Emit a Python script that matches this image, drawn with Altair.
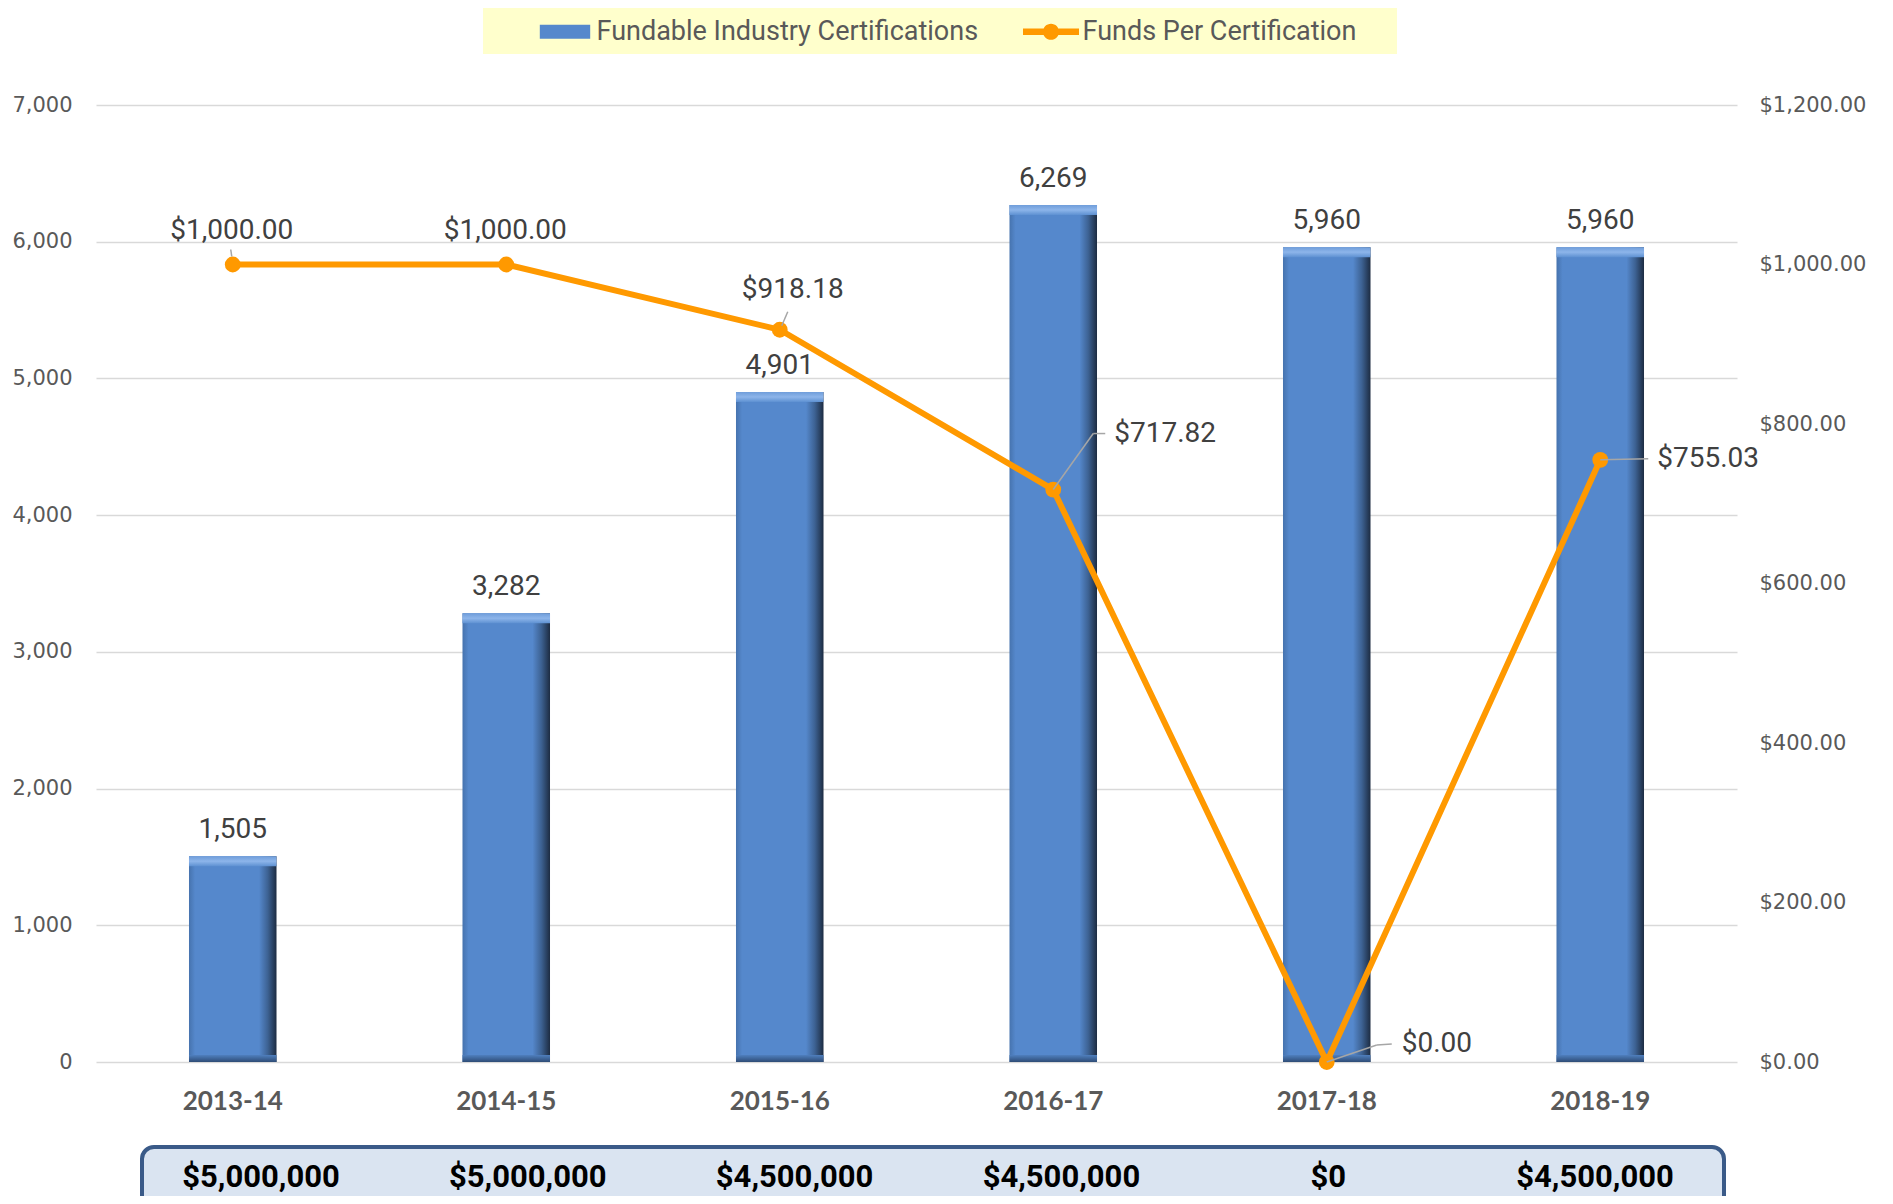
import altair as alt
import pandas as pd

years = ["2013-14", "2014-15", "2015-16", "2016-17", "2017-18", "2018-19"]
certifications = [1505, 3282, 4901, 6269, 5960, 5960]
funds_per_cert = [1000.00, 1000.00, 918.18, 717.82, 0.00, 755.03]
total_funds = [5000000, 5000000, 4500000, 4500000, 0, 4500000]
series_names = ["Fundable Industry Certifications", "Funds Per Certification"]
left_ticks = [0, 1000, 2000, 3000, 4000, 5000, 6000, 7000]
right_ticks = [0, 200, 400, 600, 800, 1000, 1200]

df = pd.DataFrame({"year": years, "certs": certifications,
                   "fpc": funds_per_cert, "funds": total_funds})
one = pd.DataFrame({"k": [0]})

NARROW = "Roboto"
AXISFONT = "DejaVu Sans"
BLUE = "#5588CC"
ORANGE = "#FF9900"
GRAY = "#595959"
LABEL = "#404040"

x_axis = alt.Axis(title=None, labelFont="Lato", labelFontWeight="bold", labelFontSize=26,
                  labelColor=GRAY, labelPadding=26, domain=False, ticks=False, tickSize=0,
                  labelAngle=0)
x_enc = alt.X("year:N", sort=years,
              scale=alt.Scale(paddingInner=0.68, paddingOuter=0.34), axis=x_axis)

left_axis = alt.Axis(title=None, values=left_ticks, format=",.0f", labelFont=AXISFONT,
                     labelFontSize=21, labelColor=GRAY, labelPadding=24, domain=False,
                     ticks=False, grid=True, gridColor="#D9D9D9", gridWidth=1.6, orient="left")
left_scale = alt.Scale(domain=[0, 7000], nice=False)
y_left = alt.Y("certs:Q", scale=left_scale, axis=left_axis)

right_axis = alt.Axis(title=None, values=right_ticks, format="$,.2f", labelFont=AXISFONT,
                      labelFontSize=21, labelColor=GRAY, labelPadding=22, domain=False,
                      ticks=False, grid=False, orient="right")
y_right = alt.Y("fpc:Q", scale=alt.Scale(domain=[0, 1200], nice=False), axis=right_axis)

base = alt.Chart(df)

bar_grad = {"gradient": "linear", "x1": 0, "x2": 1, "y1": 0, "y2": 0,
            "stops": [{"offset": 0, "color": "#4673AE"},
                      {"offset": 0.07, "color": BLUE},
                      {"offset": 0.80, "color": BLUE},
                      {"offset": 0.90, "color": "#3D6293"},
                      {"offset": 1, "color": "#1D2C42"}]}
top_grad = {"gradient": "linear", "x1": 0, "x2": 0, "y1": 0, "y2": 1,
            "stops": [{"offset": 0, "color": "#6F9DDA"},
                      {"offset": 0.5, "color": "#8DB5EA"},
                      {"offset": 1, "color": "#5E91D2"}]}
bot_grad = {"gradient": "linear", "x1": 0, "x2": 0, "y1": 0, "y2": 1,
            "stops": [{"offset": 0, "color": "#4F7FBE"},
                      {"offset": 1, "color": "#2E4C76"}]}

legend_bg = alt.Chart(one).mark_rect(fill="#FFFFCC").encode(
    x=alt.value(387), x2=alt.value(1301), y=alt.value(-99), y2=alt.value(-51))

bars = base.mark_bar(fill=bar_grad).encode(x=x_enc, y=y_left)
bar_top = base.mark_bar(fill=top_grad, y2Offset=10).encode(
    x=x_enc, y=y_left, y2=alt.Y2("certs:Q"))
bar_bot = base.mark_bar(fill=bot_grad, yOffset=-7).encode(
    x=x_enc, y=alt.Y(datum=0, scale=left_scale, axis=left_axis),
    y2=alt.Y2(datum=0))
bar_labels = base.mark_text(font=NARROW, fontSize=28, color=LABEL, baseline="alphabetic",
                            dy=-18).encode(x=x_enc, y=y_left,
                                           text=alt.Text("certs:Q", format=","))

box = alt.Chart(one).mark_rect(fill="#DAE4F1", stroke="#3A5A88", strokeWidth=4,
                               cornerRadius=12).encode(
    x=alt.value(46), x2=alt.value(1628), y=alt.value(1042), y2=alt.value(1170))

layer_a = alt.layer(legend_bg, bars, bar_top, bar_bot, bar_labels, box)

line = base.mark_line(color=ORANGE, strokeWidth=6).encode(x=x_enc, y=y_right)
dots = base.mark_circle(color=ORANGE, size=250, opacity=1).encode(x=x_enc, y=y_right)


def leader(cat, x0, y0, x1, y1):
    return base.transform_filter(alt.datum.year == cat).mark_rule(
        color="#A6A6A6", strokeWidth=1.5, xOffset=x0, yOffset=y0,
        x2Offset=x1, y2Offset=y1).encode(
        x=x_enc, x2=alt.X2("year:N"), y=y_right, y2=alt.Y2("fpc:Q"))


def fpc_label(cats, dx, dy, align):
    return base.transform_filter(alt.FieldOneOfPredicate(field="year", oneOf=cats)).mark_text(
        font=NARROW, fontSize=28, color=LABEL, baseline="middle", align=align,
        dx=dx, dy=dy).encode(x=x_enc, y=y_right, text=alt.Text("fpc:Q", format="$,.2f"))


leaders = [
    leader("2013-14", -1, -8, -2, -15),
    leader("2015-16", 2, -4, 8, -18),
    leader("2016-17", 0, 0, 40, -56),
    leader("2016-17", 40, -56, 52, -56),
    leader("2017-18", 0, 0, 50, -17),
    leader("2017-18", 50, -17, 65, -18),
    leader("2018-19", 0, 0, 48, -1),
]
labels = [
    fpc_label(["2013-14", "2014-15"], -1, -34, "center"),
    fpc_label(["2015-16"], 13, -40, "center"),
    fpc_label(["2016-17"], 61, -56, "left"),
    fpc_label(["2017-18"], 75, -18, "left"),
    fpc_label(["2018-19"], 57, -1, "left"),
]

rect_path = "M-3.6,-1H3.6V1H-3.6Z"
line_path = ("M-4,-0.45H4V0.45H-4Z "
             "M1.15,0A1.15,1.15 0 1 1 -1.15,0A1.15,1.15 0 1 1 1.15,0Z")
leg = alt.Legend(title=None, orient="none", legendX=455.5, legendY=-87,
                 direction="horizontal", labelFont=NARROW, labelFontSize=27,
                 labelColor=GRAY, symbolSize=196, labelOffset=18, columnPadding=44,
                 labelLimit=0, symbolStrokeWidth=0, padding=0)
legend_layer = base.transform_calculate(series="'none'").transform_filter("false").mark_point(
    filled=True, opacity=1).encode(
    color=alt.Color("series:N", scale=alt.Scale(domain=series_names, range=[BLUE, ORANGE]),
                    legend=leg),
    shape=alt.Shape("series:N", scale=alt.Scale(domain=series_names,
                                                range=[rect_path, line_path]),
                    legend=leg))

layer_b = alt.layer(line, dots, *leaders, *labels, legend_layer)

main = alt.layer(layer_a, layer_b).resolve_scale(y="independent")

amounts = base.mark_text(font=NARROW, fontWeight="bold", fontSize=31, color="#000000",
                         baseline="middle").encode(
    x=alt.X("year:N", sort=years,
            scale=alt.Scale(type="point", range=[165, 1499], padding=0), axis=None),
    y=alt.value(1073), text=alt.Text("funds:Q", format="$,.0f"))

chart = alt.layer(main, amounts).resolve_scale(x="independent").properties(
    width=1641, height=957,
    autosize=alt.AutoSizeParams(type="none"),
    padding={"left": 88, "top": 97, "right": 140, "bottom": 134},
).configure_view(stroke=None)

chart.save("out.html", embed_options={"renderer": "svg", "actions": False})
